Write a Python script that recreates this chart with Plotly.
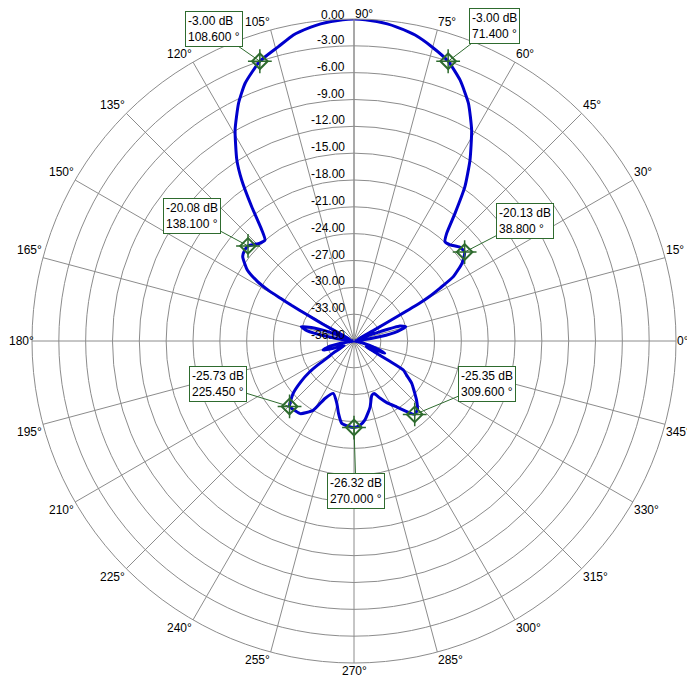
import numpy as np
import plotly.graph_objects as go

# antenna pattern: angle (deg) and gain (dB)
angle_deg = [0, 5, 9.5, 12.5, 15.5, 18, 19.7, 22, 25.5, 28.5, 29.5, 30, 30.5, 31.6,
             32.9, 35.8, 38.8, 41.6, 45, 47.5, 49.3, 51.65, 54.3, 57.35, 60.85,
             64.3, 67.9, 71.4, 75.2, 78.7, 80, 84, 88, 90, 92, 96, 100, 101.2,
             104.4, 108.6, 112.9, 115.9, 119.4, 122.9, 124.9, 127.3, 129.7, 131.4,
             134.5, 136.5, 138.1, 140.1, 142.9, 146.4, 148.3, 149.3, 149.8, 150.3,
             150.8, 151.5, 153, 156, 160, 162.5, 164.7, 167.5, 170.5, 174, 180,
             186, 190, 193, 196.3, 199, 202, 206, 209.5, 212, 213.5, 215, 217.5,
             220.8, 225.45, 229, 233.5, 239.5, 243.2, 248.4, 254.5, 258, 261.5,
             266, 270, 274, 277.9, 283.7, 288.1, 291, 294.4, 298, 303, 309.6, 313,
             316.7, 320, 323.8, 327, 329.5, 330.5, 332, 335, 338.4, 342, 347, 353,
             360]
gain_db = [-36, -35.5, -33, -31, -30.0, -30.6, -32.8, -34.8, -35.5, -33.5, -30.5,
           -27.5, -26.3, -24.7, -22.8, -21.1, -20.13, -20.2, -20.8, -20.94, -20.1,
           -17.8, -14.75, -11.96, -9.0, -6.5, -4.5, -3.0, -1.97, -1.12, -0.9,
           -0.35, -0.05, 0.0, -0.05, -0.35, -0.9, -1.12, -2.02, -3.0, -4.72, -6.45,
           -8.92, -11.88, -14.05, -17.13, -19.86, -20.95, -20.75, -20.35, -20.08,
           -20.1, -20.4, -21.7, -23.3, -24.8, -26.5, -28, -30, -32, -34.5, -35.5,
           -33, -31, -29.9, -30.6, -33, -35, -36, -35.8, -34.5, -33, -32.4, -33.2,
           -34.5, -34.8, -33.5, -32.6, -31.2, -29.9, -28.5, -27.0, -25.73, -25.78,
           -25.9, -27.0, -28.8, -29.7, -28.8, -27.7, -26.7, -26.45, -26.32, -26.55,
           -27.1, -28.4, -29.6, -29.7, -29.0, -28.2, -27.2, -25.35, -25.6, -26.4,
           -27.2, -28.0, -29.0, -29.6, -31.5, -33.5, -34.5, -32.3, -33.5, -35.0,
           -35.8, -36]

# marker readouts
mark_angle = [108.6, 71.4, 138.1, 38.8, 225.45, 270.0, 309.6]
mark_db = [-3.00, -3.00, -20.08, -20.13, -25.73, -26.32, -25.35]
# label box offsets in pixels from each marker
label_dx = [-46, 46, -56, 60, -72, 2, 72]
label_dy = [-32, -35, -30, -31, -22, 63, -30]

# axis labels
tick_angles = list(range(0, 360, 15))
radial_ticks = [0, -3, -6, -9, -12, -15, -18, -21, -24, -27, -30, -33, -36]

r_min = -36
green = "#2E6B2E"
grid = "#8C8C8C"
font = "Liberation Sans, Arial, sans-serif"

fig = go.Figure()

fig.add_trace(go.Scatterpolar(
    r=gain_db, theta=angle_deg, mode="lines",
    line=dict(color="#0000CC", width=3, shape="spline", smoothing=0.5),
    showlegend=False, hoverinfo="skip"))

fig.add_trace(go.Scatterpolar(
    r=mark_db, theta=mark_angle, mode="markers",
    marker=dict(symbol="cross-thin-open", size=17, color=green,
                line=dict(color=green, width=1.5)),
    showlegend=False, hoverinfo="skip"))
fig.add_trace(go.Scatterpolar(
    r=mark_db, theta=mark_angle, mode="markers",
    marker=dict(symbol="diamond-open", size=12, color=green,
                line=dict(color=green, width=2)),
    showlegend=False, hoverinfo="skip"))

# invisible cartesian frame on top of the polar one, used to anchor the labels
fig.add_trace(go.Scatter(x=[], y=[], showlegend=False))

for a, d, dx, dy in zip(mark_angle, mark_db, label_dx, label_dy):
    rr = d - r_min
    fig.add_annotation(
        x=rr * np.cos(np.radians(a)), y=rr * np.sin(np.radians(a)),
        xref="x", yref="y", ax=dx, ay=dy,
        text=f"{d:.2f} dB<br>{a:.3f} °", align="left",
        showarrow=True, arrowhead=0, arrowwidth=1, arrowcolor=green,
        bordercolor=green, borderwidth=1, borderpad=2, bgcolor="white",
        font=dict(family=font, size=12, color="black"))

for a in tick_angles:
    c, s = np.cos(np.radians(a)), np.sin(np.radians(a))
    if abs(c) < 1e-6:
        xa = "left" if s > 0 else "center"
    else:
        xa = "left" if c > 0 else "right"
    ya = "middle" if abs(s) < 1e-6 else ("bottom" if s > 0 else "top")
    fig.add_annotation(
        x=-r_min * c, y=-r_min * s, xref="x", yref="y",
        text=f"{a}°", showarrow=False, xanchor=xa, yanchor=ya,
        xshift=3 if a == 180 else 0, yshift=-3 if a == 90 else 0,
        borderpad=0, font=dict(family=font, size=12, color="black"))

# dB labels sit just above each ring, left of the 90° spoke
for v in radial_ticks:
    fig.add_annotation(
        x=0, y=v - r_min, xref="x", yref="y",
        text=f"{v:.2f}", showarrow=False, xanchor="right", yanchor="middle",
        xshift=-8, yshift=6 if v < 0 else 4, borderpad=0,
        font=dict(family=font, size=12, color="black"))

# page has an 8px body margin, so the figure is 8px smaller than the window
fig.update_layout(
    width=687, height=671, autosize=False,
    margin=dict(l=24, r=19, t=11, b=16),
    paper_bgcolor="white", plot_bgcolor="rgba(0,0,0,0)",
    font=dict(family=font, size=12, color="black"),
    xaxis=dict(range=[r_min, -r_min], visible=False, fixedrange=True, domain=[0, 1]),
    yaxis=dict(range=[r_min, -r_min], visible=False, fixedrange=True, domain=[0, 1]),
    polar=dict(
        domain=dict(x=[0, 1], y=[0, 1]),
        bgcolor="white",
        angularaxis=dict(rotation=0, direction="counterclockwise", dtick=15,
                         showticklabels=False, ticks="", showline=True,
                         linecolor=grid, linewidth=1, gridcolor=grid, gridwidth=1),
        radialaxis=dict(range=[r_min, 0], dtick=3, angle=90, showticklabels=False,
                        ticks="", showline=True, linecolor=grid,
                        gridcolor=grid, gridwidth=1),
    ),
)

fig.write_html("out.html")
